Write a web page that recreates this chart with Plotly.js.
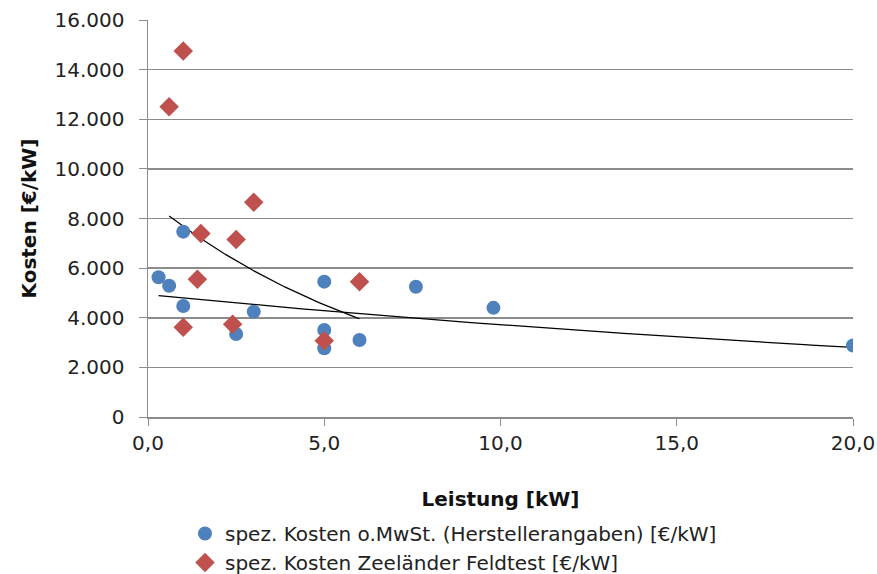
<!DOCTYPE html>
<html><head><meta charset="utf-8">
<script src="https://cdn.plot.ly/plotly-3.0.1.min.js"></script>
<style>html,body{margin:0;padding:0;background:#fff;}#chart{width:877px;height:574px;}</style>
</head><body><div id="chart"></div>
<script>
const blueName = 'spez. Kosten o.MwSt. (Herstellerangaben) [€/kW]';
const blueX = [0.3, 0.6, 1.0, 1.0, 2.5, 3.0, 5.0, 5.0, 5.0, 6.0, 7.6, 9.8, 20.0];
const blueY = [5630, 5290, 7470, 4475, 3345, 4245, 5455, 3505, 2770, 3105, 5250, 4400, 2880];
const redName = 'spez. Kosten Zeeländer Feldtest [€/kW]';
const redX = [0.6, 1.0, 3.0, 1.5, 2.5, 1.4, 6.0, 1.0, 2.4, 5.0];
const redY = [12500, 14750, 8650, 7400, 7150, 5550, 5450, 3615, 3735, 3075];
const xTitle = 'Leistung [kW]';
const yTitle = 'Kosten [€/kW]';

// Exponential trend line (least squares on ln y), like a spreadsheet trend line
function expTrend(xs, ys, n) {
  const m = xs.length;
  const ls = ys.map(v => Math.log(v));
  const mx = xs.reduce((a, b) => a + b, 0) / m;
  const ml = ls.reduce((a, b) => a + b, 0) / m;
  let sxy = 0, sxx = 0;
  for (let i = 0; i < m; i++) { sxy += (xs[i] - mx) * (ls[i] - ml); sxx += (xs[i] - mx) ** 2; }
  const b = sxy / sxx, a = ml - b * mx;
  const x0 = Math.min(...xs), x1 = Math.max(...xs);
  const tx = [], ty = [];
  for (let i = 0; i <= n; i++) { const x = x0 + (x1 - x0) * i / n; tx.push(x); ty.push(Math.exp(a + b * x)); }
  return {tx, ty};
}
const tb = expTrend(blueX, blueY, 100);
const tr = expTrend(redX, redY, 100);

const font = 'DejaVu Sans, Verdana, sans-serif';
const traces = [
  {x: tb.tx, y: tb.ty, mode: 'lines', line: {color: '#000', width: 1.2}, showlegend: false, hoverinfo: 'skip'},
  {x: tr.tx, y: tr.ty, mode: 'lines', line: {color: '#000', width: 1.2}, showlegend: false, hoverinfo: 'skip'},
  {x: blueX, y: blueY, mode: 'markers', name: blueName, marker: {symbol: 'circle', size: 14, color: '#4F81BD'}},
  {x: redX, y: redY, mode: 'markers', name: redName, marker: {symbol: 'diamond', size: 15, color: '#C0504D'}}
];
const layout = {
  width: 877, height: 574,
  margin: {l: 148, r: 24, t: 20, b: 157, autoexpand: false},
  paper_bgcolor: '#fff', plot_bgcolor: '#fff',
  separators: ',.',
  font: {family: font, size: 20, color: '#222'},
  showlegend: true,
  legend: {x: (185 - 148) / 705, y: (417 - 514) / 397, xanchor: 'left', yanchor: 'top',
           font: {family: font, size: 20, color: '#222'}, itemwidth: 30, tracegroupgap: 0, bgcolor: 'rgba(0,0,0,0)'},
  xaxis: {range: [0, 20], tickvals: [0, 5, 10, 15, 20], tickformat: '.1f', showgrid: false, zeroline: false,
          showline: true, linecolor: '#8c8c8c', linewidth: 1.5, ticks: 'outside', ticklen: 7, tickcolor: '#8c8c8c',
          ticklabelstandoff: 0,
          title: {text: '<b>' + xTitle + '</b>', standoff: 38, font: {family: font, size: 20, color: '#111'}}},
  yaxis: {range: [0, 16000], tickvals: [0, 2000, 4000, 6000, 8000, 10000, 12000, 14000, 16000], tickformat: ',d',
          showgrid: true, gridcolor: '#8c8c8c', gridwidth: 1.5, zeroline: false,
          showline: true, linecolor: '#8c8c8c', linewidth: 1.5, ticks: 'outside', ticklen: 8, tickcolor: '#8c8c8c',
          ticklabelstandoff: 10,
          title: {text: '<b>' + yTitle + '</b>', standoff: 12, font: {family: font, size: 20, color: '#111'}}}
};
Plotly.newPlot('chart', traces, layout, {displayModeBar: false, staticPlot: true});
</script></body></html>
